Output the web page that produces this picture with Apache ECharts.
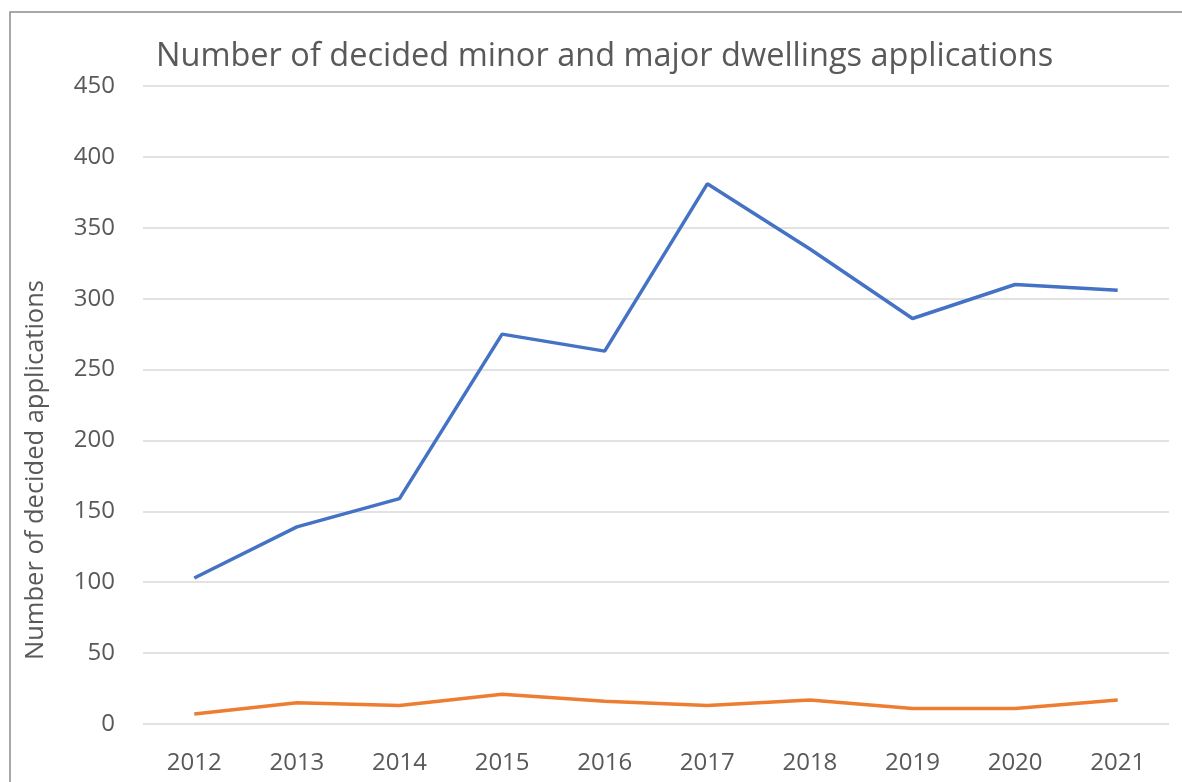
<!DOCTYPE html>
<html>
<head>
<meta charset="utf-8">
<script src="https://cdn.jsdelivr.net/npm/echarts@6/dist/echarts.min.js"></script>
<style>
  html, body { margin: 0; padding: 0; background: #fff; }
  #chart { width: 1182px; height: 782px; }
</style>
</head>
<body>
<div id="chart"></div>
<script>
// data
const years = ['2012', '2013', '2014', '2015', '2016', '2017', '2018', '2019', '2020', '2021']
const minorValues = [103, 139, 159, 275, 263, 381, 335, 286, 310, 306]
const majorValues = [7, 15, 13, 21, 16, 13, 17, 11, 11, 17]
const yTicks = { min: 0, max: 450, interval: 50 }

const textColor = '#595959'
const font = 'Open Sans'

const myChart = echarts.init(document.getElementById('chart'))

const option = {
  backgroundColor: '#fff',
  animation: false,
  title: {
    text: 'Number of decided minor and major dwellings applications',
    left: 151,
    top: 35,
    textStyle: {
      color: textColor,
      fontFamily: font,
      fontSize: 32.5,
      fontWeight: 'normal',
    },
  },
  grid: {
    left: 143,
    right: 13,
    top: 86,
    bottom: 58,
  },
  xAxis: {
    type: 'category',
    data: years,
    boundaryGap: true,
    axisLine: { show: false },
    axisTick: { show: false },
    axisLabel: {
      color: textColor,
      fontFamily: font,
      fontSize: 24,
      margin: 27,
    },
  },
  yAxis: {
    type: 'value',
    min: yTicks.min,
    max: yTicks.max,
    interval: yTicks.interval,
    axisLine: { show: false },
    axisTick: { show: false },
    axisLabel: {
      color: textColor,
      fontFamily: font,
      fontSize: 24,
      margin: 28,
    },
    splitLine: {
      lineStyle: { color: '#d9d9d9', width: 1.5 },
    },
  },
  graphic: [
    {
      type: 'rect',
      shape: { x: 10, y: 12, width: 1300, height: 900 },
      style: { fill: 'none', stroke: '#8c8c8c', lineWidth: 1.5 },
      silent: true,
      z: -10,
    },
    {
      type: 'text',
      x: 36,
      y: 470,
      rotation: Math.PI / 2,
      style: {
        text: 'Number of decided applications',
        fill: textColor,
        font: '25.5px "Open Sans"',
        align: 'center',
        verticalAlign: 'middle',
      },
    },
  ],
  series: [
    {
      name: 'Minor',
      type: 'line',
      data: minorValues,
      symbol: 'none',
      lineStyle: { color: '#4472c4', width: 3.5 },
    },
    {
      name: 'Major',
      type: 'line',
      data: majorValues,
      symbol: 'none',
      lineStyle: { color: '#ed7d31', width: 3.5 },
    },
  ],
}

myChart.setOption(option)
</script>
</body>
</html>
